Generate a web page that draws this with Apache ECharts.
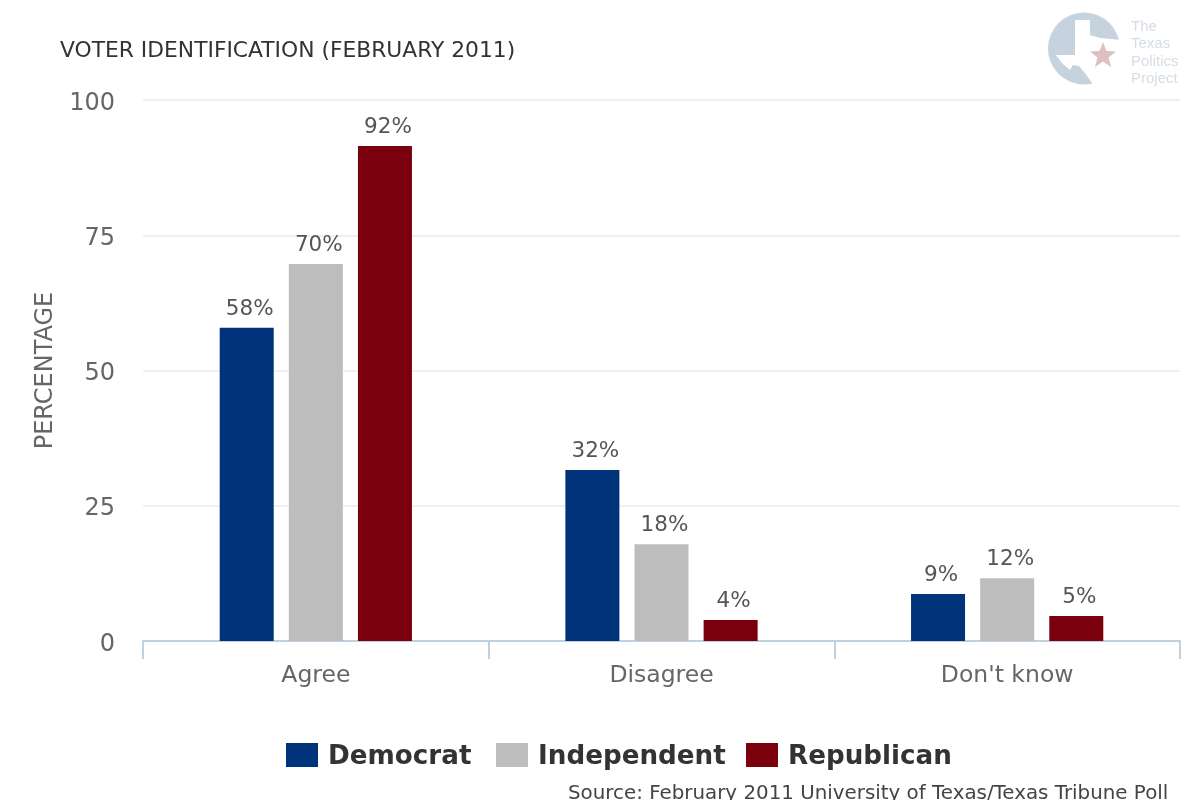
<!DOCTYPE html>
<html><head><meta charset="utf-8">
<style>html,body{margin:0;padding:0;background:#fff}#c{width:1200px;height:800px}</style>
<script src="https://cdn.jsdelivr.net/npm/echarts@6/dist/echarts.min.js"></script>
</head><body><div id="c"></div>
<script>
const categories = ["Agree", "Disagree", "Don't know"];
const democrat = [57.9, 31.6, 8.7];
const independent = [69.7, 17.9, 11.6];
const republican = [91.5, 3.9, 4.6];
const democratLabels = ["58%", "32%", "9%"];
const independentLabels = ["70%", "18%", "12%"];
const republicanLabels = ["92%", "4%", "5%"];
const yTicks = [0, 25, 50, 75, 100];
const FONT = '"DejaVu Sans", sans-serif';

function bar(name, values, labels, color) {
  return {
    name, type: 'bar', data: values, barWidth: 54, barGap: '28%',
    itemStyle: { color },
    label: {
      show: true, position: 'top', distance: 7.5, offset: [3, 0], color: '#555',
      fontFamily: FONT, fontSize: 21.5,
      formatter: p => labels[p.dataIndex]
    }
  };
}
function legendItem(name, left) {
  return {
    data: [name], left, top: 738, itemWidth: 32, itemHeight: 24,
    icon: 'rect', selectedMode: false,
    formatter: '{a|{name}}',
    textStyle: {
      padding: [0, 0, 0, 5],
      rich: { a: { fontFamily: FONT, fontSize: 26.2, fontWeight: 'bold', color: '#333', padding: [4, 0, 0, 0] } }
    }
  };
}
const chart = echarts.init(document.getElementById('c'), null, { renderer: 'canvas' });
chart.setOption({
  animation: false,
  backgroundColor: '#fff',
  title: {
    text: 'VOTER IDENTIFICATION (FEBRUARY 2011)', left: 55, top: 35,
    textStyle: { fontFamily: FONT, fontSize: 21.8, fontWeight: 'normal', color: '#333' }
  },
  grid: { left: 143, right: 20, top: 100, bottom: 159, containLabel: false },
  legend: [legendItem('Democrat', 281), legendItem('Independent', 491), legendItem('Republican', 741)],
  xAxis: {
    type: 'category', data: categories,
    axisLine: { lineStyle: { color: '#c0d0e0', width: 2 } },
    axisTick: { show: true, alignWithLabel: false, length: 18, lineStyle: { color: '#c0d0e0', width: 2 } },
    axisLabel: { color: '#666', fontFamily: FONT, fontSize: 23.5, margin: 23 }
  },
  yAxis: {
    type: 'value', min: yTicks[0], max: yTicks[yTicks.length - 1], interval: yTicks[1] - yTicks[0],
    name: 'PERCENTAGE', nameLocation: 'middle', nameGap: 85, nameRotate: 90,
    nameTextStyle: { color: '#666', fontFamily: FONT, fontSize: 24 },
    axisLine: { show: false }, axisTick: { show: false },
    axisLabel: { color: '#666', fontFamily: FONT, fontSize: 24, margin: 28, verticalAlign: 'top', lineHeight: 7 },
    splitLine: { lineStyle: { color: '#f0f0f0', width: 2 } }
  },
  series: [
    bar('Democrat', democrat, democratLabels, '#00337a'),
    bar('Independent', independent, independentLabels, '#bdbdbd'),
    bar('Republican', republican, republicanLabels, '#7a000d')
  ],
  graphic: [
    { type: 'circle', shape: { cx: 1084, cy: 48.5, r: 36 }, style: { fill: '#c6d3df' }, silent: true },
    { type: 'polygon', shape: { points: [[1075,20],[1090,20],[1090,35],[1100,38],[1122,40],[1122,90],[1094,86],[1090,80],[1084,72],[1079,66],[1073,65],[1070,70],[1062,63],[1056,55],[1075,55]] }, style: { fill: '#fff' }, silent: true },
    { type: 'polygon', shape: { points: [[1103,42],[1106.5,51],[1116,51.5],[1108.5,57.5],[1111,67],[1103,61.5],[1095,67],[1097.5,57.5],[1090,51.5],[1099.5,51]] }, style: { fill: '#dcc0c2' }, silent: true },
    { type: 'text', left: 1131, top: 18, style: { text: 'The\nTexas\nPolitics\nProject', fill: '#d5dde4', font: '15px "Liberation Sans", sans-serif', lineHeight: 17.5 }, silent: true },
    { type: 'text', left: 568, top: 784, style: { text: 'Source: February 2011 University of Texas/Texas Tribune Poll', fill: '#444', font: '19.85px "DejaVu Sans", sans-serif' }, silent: true }
  ]
});
</script></body></html>
